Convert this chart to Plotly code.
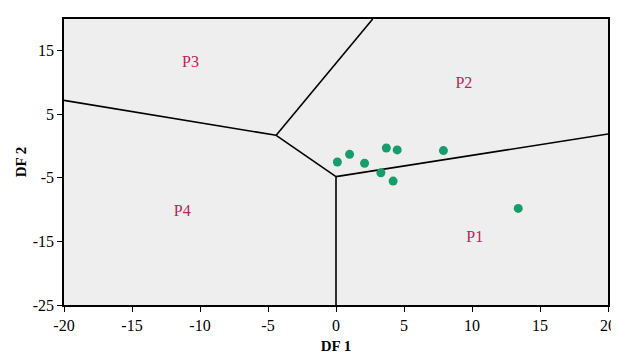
import plotly.graph_objects as go

# Case points (DF1, DF2)
df1 = [0.1, 1.0, 2.1, 3.7, 4.5, 3.3, 4.2, 7.9, 13.4]
df2 = [-2.5, -1.3, -2.7, -0.3, -0.6, -4.2, -5.5, -0.7, -9.8]

# Territorial map boundaries (segments)
seg_x = [[0.0, 0.0], [0.0, 20.0], [0.0, -4.4], [-4.4, -20.0], [-4.4, 2.7]]
seg_y = [[-25.0, -4.8], [-4.8, 1.9], [-4.8, 1.7], [1.7, 7.2], [1.7, 20.0]]

# Group labels
grp_names = ["P1", "P2", "P3", "P4"]
grp_x = [10.2, 9.4, -10.7, -11.3]
grp_y = [-14.5, 9.7, 13.0, -10.4]

x_ticks = [-20, -15, -10, -5, 0, 5, 10, 15, 20]
x_labels = ["-20", "-15", "-10", "-5", "0", "5", "10", "15", "20"]
y_ticks = [-25, -15, -5, 5, 15]
y_labels = ["-25", "-15", "-5", "5", "15"]

serif = "Liberation Serif, Times New Roman, serif"

fig = go.Figure()
for sx, sy in zip(seg_x, seg_y):
    fig.add_trace(go.Scatter(x=sx, y=sy, mode="lines",
                             line=dict(color="black", width=1.6),
                             showlegend=False, hoverinfo="skip"))

fig.add_trace(go.Scatter(x=df1, y=df2, mode="markers",
                         marker=dict(color="#179c6b", size=9),
                         showlegend=False))

fig.add_trace(go.Scatter(x=grp_x, y=grp_y, mode="text", text=grp_names,
                         textfont=dict(family=serif, size=16, color="#b8245a"),
                         showlegend=False, hoverinfo="skip"))

fig.update_layout(
    width=619, height=358,
    margin=dict(l=56, r=19, t=9, b=61),
    paper_bgcolor="white",
    plot_bgcolor="#eeeeee",
    font=dict(family=serif, size=16, color="black"),
)
fig.update_xaxes(range=[-20, 20], tickvals=x_ticks, ticktext=x_labels,
                 showgrid=False, zeroline=False,
                 showline=True, linecolor="black", linewidth=1.5, mirror=True,
                 ticks="outside", ticklen=5, tickcolor="black",
                 title=dict(text="<b>DF 1</b>", standoff=8, font=dict(size=15)))
fig.update_yaxes(range=[-25, 20], tickvals=y_ticks, ticktext=y_labels,
                 showgrid=False, zeroline=False,
                 showline=True, linecolor="black", linewidth=1.5, mirror=True,
                 ticks="outside", ticklen=5, tickcolor="black",
                 title=dict(text="<b>DF 2</b>", standoff=2, font=dict(size=15)))

fig.write_html("out.html")
